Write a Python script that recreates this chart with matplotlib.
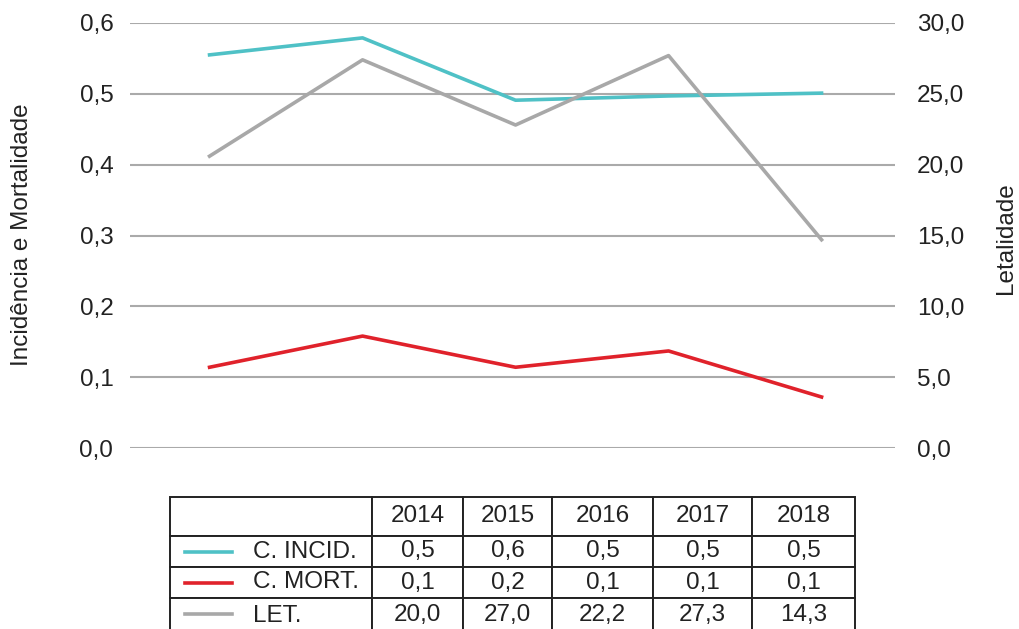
import matplotlib.pyplot as plt
from matplotlib.ticker import FuncFormatter
from matplotlib.lines import Line2D

plt.rcParams['font.family'] = ['Liberation Sans', 'DejaVu Sans']

years = ["2014", "2015", "2016", "2017", "2018"]
incid = [0.555, 0.579, 0.491, 0.497, 0.501]
mort = [0.114, 0.158, 0.114, 0.137, 0.072]
let = [20.6, 27.4, 22.8, 27.7, 14.7]

names = ["C. INCID.", "C. MORT.", "LET."]
incid_txt = ["0,5", "0,6", "0,5", "0,5", "0,5"]
mort_txt = ["0,1", "0,2", "0,1", "0,1", "0,1"]
let_txt = ["20,0", "27,0", "22,2", "27,3", "14,3"]

teal = "#4fc1c6"
red = "#e0222b"
gray = "#a8a8a8"
fs = 17.5

W, H = 1019, 629
fig = plt.figure(figsize=(W / 100, H / 100), dpi=100)
ax = fig.add_axes([130 / W, 1 - 448 / H, 765 / W, 425 / H])
ax2 = ax.twinx()

x = list(range(len(years)))
ax.plot(x, incid, color=teal, lw=2.6, zorder=3)
ax.plot(x, mort, color=red, lw=2.6, zorder=3)
ax2.plot(x, let, color=gray, lw=2.6, zorder=3)

ax.set_xlim(-0.52, 4.48)
ax.set_ylim(0, 0.6)
ax2.set_ylim(0, 30)
ax.set_yticks([0, 0.1, 0.2, 0.3, 0.4, 0.5, 0.6])
ax2.set_yticks([0, 5, 10, 15, 20, 25, 30])
ax.yaxis.set_major_formatter(FuncFormatter(lambda v, p: f"{v:.1f}".replace(".", ",")))
ax2.yaxis.set_major_formatter(FuncFormatter(lambda v, p: f"{v:.1f}".replace(".", ",")))
ax.grid(axis="y", color="#aaaaaa", lw=1.5)
ax.set_axisbelow(True)
ax.set_xticks([])
for a in (ax, ax2):
    for s in a.spines.values():
        s.set_visible(False)
    a.tick_params(axis="y", length=0, labelsize=fs, colors="#222222")
ax.tick_params(axis="y", pad=12)
ax2.tick_params(axis="y", pad=16)

fig.text(22 / W, 1 - 235 / H, "Incidência e Mortalidade", rotation=90,
         ha="center", va="center", fontsize=fs, color="#222222")
fig.text(1006 / W, 1 - 238 / H, "Letalidade", rotation=90,
         ha="center", va="center", fontsize=fs, color="#222222")

# table below the chart
tx0, tx1, ty0, ty1 = 170, 855, 497, 633
tax = fig.add_axes([tx0 / W, 1 - ty1 / H, (tx1 - tx0) / W, (ty1 - ty0) / H])
tax.axis("off")
cells = [[""] + years,
         [names[0]] + incid_txt,
         [names[1]] + mort_txt,
         [names[2]] + let_txt]
col_w = [202, 91, 89, 101, 99, 103]
row_h = [39, 31, 31, 35]
tbl = tax.table(cellText=cells, cellLoc="center", bbox=[0, 0, 1, 1])
tbl.auto_set_font_size(False)
tbl.set_fontsize(fs)
for (r, c), cell in tbl.get_celld().items():
    cell.set_width(col_w[c])
    cell.set_height(row_h[r])
    cell.set_edgecolor("#222222")
    cell.set_linewidth(1.4)
    cell.get_text().set_color("#222222")
    if c == 0 and r > 0:
        cell.get_text().set_ha("left")
        cell.PAD = 83 / 202
        cell._loc = "left"

tot_h = sum(row_h)
for i, col in enumerate([teal, red, gray]):
    yc = 1 - (sum(row_h[:i + 1]) + row_h[i + 1] / 2 - (2 if i == 2 else 0)) / tot_h
    tax.add_line(Line2D([15 / 685, 62 / 685], [yc, yc], color=col, lw=2.6,
                        transform=tax.transAxes, zorder=5))

fig.savefig("out.png", dpi=100)
